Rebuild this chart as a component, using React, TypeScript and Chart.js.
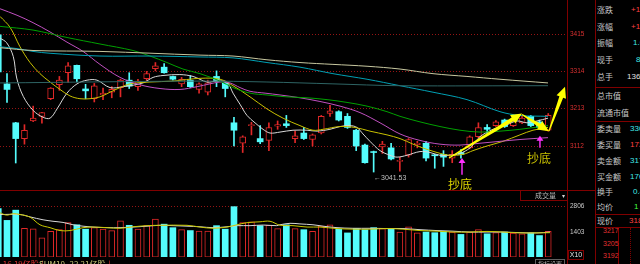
import React, { useEffect, useRef } from "react";
import { Chart, registerables } from "chart.js";

Chart.register(...registerables);

// ---------------- data ----------------
const priceTicks = [3112, 3213, 3314, 3415];
const volumeTicks = [1403, 2806];

// [open, high, low, close] per trading day
const candles: number[][] = [
  [3413.2, 3415.0, 3307.8, 3312.8],
  [3280.2, 3307.8, 3230.0, 3265.1],
  [3174.8, 3176.0, 3066.0, 3132.1],
  [3132.1, 3169.7, 3117.0, 3154.7],
  [3179.8, 3219.9, 3178.0, 3187.3],
  [3192.3, 3203.0, 3173.5, 3202.4],
  [3240.0, 3270.0, 3237.5, 3269.0],
  [3277.7, 3300.3, 3262.6, 3290.2],
  [3310.3, 3337.9, 3284.0, 3329.0],
  [3330.4, 3331.0, 3285.2, 3294.0],
  [3266.4, 3279.0, 3240.0, 3261.3],
  [3240.0, 3281.4, 3231.2, 3275.2],
  [3250.1, 3269.0, 3237.5, 3255.1],
  [3257.6, 3272.6, 3242.5, 3265.1],
  [3270.1, 3292.7, 3245.0, 3290.2],
  [3290.2, 3310.3, 3267.6, 3274.0],
  [3272.6, 3292.7, 3262.6, 3287.7],
  [3294.0, 3314.0, 3287.7, 3307.8],
  [3321.6, 3337.9, 3315.3, 3329.0],
  [3325.4, 3335.4, 3309.0, 3310.3],
  [3300.3, 3301.5, 3290.0, 3292.7],
  [3280.2, 3297.7, 3272.6, 3292.7],
  [3290.2, 3302.8, 3270.1, 3272.6],
  [3265.1, 3282.7, 3255.1, 3280.2],
  [3257.6, 3290.2, 3250.1, 3282.7],
  [3300.3, 3315.3, 3272.6, 3286.4],
  [3282.7, 3285.2, 3245.0, 3267.6],
  [3174.8, 3189.8, 3112.0, 3154.7],
  [3119.5, 3139.6, 3094.4, 3137.1],
  [3167.2, 3176.0, 3142.1, 3169.7],
  [3132.1, 3167.2, 3118.3, 3123.3],
  [3127.1, 3174.8, 3099.5, 3162.2],
  [3166.0, 3179.8, 3157.2, 3169.7],
  [3172.2, 3194.8, 3162.2, 3167.2],
  [3132.1, 3152.2, 3120.8, 3139.6],
  [3147.1, 3162.2, 3129.6, 3132.1],
  [3129.6, 3144.6, 3112.0, 3142.1],
  [3147.1, 3194.8, 3144.6, 3192.3],
  [3199.9, 3222.4, 3192.3, 3207.4],
  [3204.9, 3207.4, 3179.8, 3182.3],
  [3192.3, 3199.9, 3159.7, 3162.2],
  [3154.7, 3157.2, 3099.5, 3112.0],
  [3114.5, 3117.0, 3065.6, 3066.8],
  [3096.9, 3098.2, 3041.53, 3094.4],
  [3109.5, 3124.6, 3091.9, 3117.0],
  [3107.0, 3119.5, 3074.4, 3076.9],
  [3070.6, 3081.9, 3044.2, 3073.1],
  [3086.9, 3132.1, 3081.9, 3129.6],
  [3115.8, 3124.6, 3107.0, 3119.5],
  [3119.5, 3124.6, 3071.8, 3079.4],
  [3088.2, 3089.4, 3051.8, 3085.6],
  [3089.4, 3099.5, 3056.8, 3081.9],
  [3079.4, 3099.5, 3066.8, 3089.4],
  [3094.4, 3102.0, 3079.4, 3089.4],
  [3107.0, 3139.6, 3104.5, 3137.1],
  [3137.1, 3174.8, 3134.6, 3162.2],
  [3162.2, 3169.7, 3142.1, 3157.2],
  [3167.2, 3181.0, 3164.7, 3177.3],
  [3182.3, 3184.8, 3162.2, 3164.7],
  [3167.2, 3187.3, 3164.7, 3179.8],
  [3174.8, 3192.3, 3172.2, 3187.3],
  [3192.3, 3194.8, 3164.7, 3167.2],
  [3177.3, 3182.3, 3159.7, 3162.2],
  [3154.7, 3199.9, 3152.2, 3194.8],
];

const volumes = [
  2694, 2042, 2611, 1603, 1574, 1067, 1428, 1525, 1915, 1798, 1554, 1637, 1554, 1476, 2012, 1769,
  1554, 1749, 2110, 1832, 1637, 1525, 1476, 1442, 1442, 1749, 1554, 2806, 1915, 1963, 1749, 1769,
  1588, 1798, 1588, 1525, 1428, 1720, 1798, 1554, 1345, 1588, 1525, 1637, 1588, 1588, 1393, 1686,
  1345, 1393, 1359, 1428, 1393, 1262, 1393, 1525, 1296, 1359, 1393, 1330, 1296, 1345, 1199, 1428,
];

// moving averages: [bar index, value]
const ma5: number[][] = [
  [0.2, 3404], [0.96, 3391.5], [1.72, 3354], [2.11, 3296], [2.87, 3246], [4.01, 3208], [5.13, 3189.8],
  [5.93, 3187.3], [6.73, 3212.4], [7.87, 3255.1], [9.02, 3280.2], [10.17, 3290.2], [11.31, 3290.2],
  [12.8, 3270.1], [14.3, 3272.6], [16.58, 3282.7], [17.73, 3297.7], [18.87, 3302.8], [20.8, 3305.3],
  [22.31, 3300.3], [23.91, 3285.2], [25.06, 3287.7], [26.2, 3285.2], [26.89, 3255.1], [27.69, 3225],
  [28.49, 3194.8], [29.41, 3174.8], [30.33, 3157.2], [31.13, 3147.1], [32.27, 3149.7], [33.76, 3154.7],
  [35.37, 3154.7], [36.51, 3152.2], [38, 3157.2], [39.15, 3164.7], [40.29, 3167.2], [41.09, 3162.2],
  [41.78, 3144.6], [42.58, 3124.6], [43.73, 3099.5], [44.87, 3086.9], [45.68, 3081.9], [46.82, 3086.9],
  [48.31, 3096.9], [49.46, 3094.4], [50.6, 3086.9], [51.75, 3086.9], [52.89, 3091.9], [54.04, 3107],
  [55.18, 3137.1], [56.67, 3157.2], [58.28, 3169.7], [59.42, 3179.8], [60.57, 3174.8], [61.71, 3179.8],
  [62.97, 3187.3],
];
const ma10: number[][] = [
  [0.2, 3462.7], [1.35, 3433.3], [2.49, 3380.6], [3.64, 3337.9], [4.78, 3307.8], [5.93, 3285.2],
  [7.07, 3265.1], [8.22, 3247.5], [9.36, 3240], [10.51, 3240], [11.65, 3245], [12.8, 3257.6],
  [13.95, 3270.1], [15.09, 3280.2], [17.38, 3285.2], [20.02, 3287.7], [23.11, 3295.2], [25.4, 3292.7],
  [26.89, 3275.2], [28.84, 3245], [30.78, 3212.4], [32.62, 3187.3], [34.56, 3167.2], [36.05, 3154.7],
  [37.2, 3157.2], [39.15, 3164.7], [40.86, 3162.2], [42.58, 3152.2], [44.53, 3142.1], [46.02, 3132.1],
  [47.51, 3117], [48.31, 3109.5], [50.26, 3094.4], [51.75, 3086.9], [53.24, 3089.4], [54.38, 3099.5],
  [55.98, 3112], [57.82, 3124.6], [59.76, 3142.1], [61.25, 3154.7], [62.97, 3162.2],
];
const ma20: number[][] = [
  [0.2, 3483.5], [2.15, 3465.9], [3.98, 3445.8], [5.93, 3420.7], [7.87, 3393.1], [9.71, 3368],
  [11.65, 3332.9], [13.95, 3297.7], [16.24, 3277.7], [18.53, 3267.6], [20.82, 3265.1], [22.77, 3272.6],
  [24.25, 3280.2], [25.4, 3285.2], [26.55, 3282.7], [27.69, 3270.1], [28.84, 3260.1], [30.56, 3255.1],
  [32.27, 3250.1], [34.56, 3242.5], [36.85, 3232.5], [39.15, 3219.9], [41.44, 3202.4], [43.73, 3174.8],
  [46.02, 3144.6], [48.31, 3127.1], [50.6, 3117], [52.89, 3114.5], [55.18, 3119.5], [57.47, 3124.6],
  [59.76, 3129.6], [62.97, 3134.6],
];
const ma30: number[][] = [
  [0.2, 3435.8], [3.98, 3425.8], [7.87, 3405.7], [11.65, 3388.1], [15.43, 3370.5], [17.38, 3355.5],
  [19.33, 3337.9], [21.16, 3320.3], [23.11, 3307.8], [25.4, 3287.7], [26.89, 3270.1], [28.84, 3255.1],
  [30.78, 3250.1], [33.07, 3245], [35.37, 3242.5], [37.66, 3237.5], [39.95, 3230], [42.24, 3219.9],
  [44.53, 3204.9], [46.02, 3192.3], [48.31, 3177.3], [50.6, 3164.7], [52.89, 3154.7], [55.18, 3149.7],
  [57.47, 3152.2], [59.76, 3157.2], [62.97, 3167.2],
];
const ma60: number[][] = [
  [0.2, 3380.6], [2.15, 3375.6], [3.98, 3368], [5.93, 3363], [11.65, 3355.5], [17.38, 3355.5],
  [23.11, 3353], [26.89, 3350.5], [30.78, 3337.9], [34.56, 3325.4], [38.34, 3307.8], [42.24, 3292.7],
  [46.02, 3275.2], [49.8, 3257.6], [53.69, 3237.5], [57.47, 3204.9], [59.76, 3194.8], [62.97, 3192.3],
];
const ma120: number[][] = [
  [0.2, 3378.1], [3.98, 3370.5], [11.65, 3368], [23.11, 3358], [26.89, 3355.5], [30.78, 3345.4],
  [34.56, 3337.9], [38.34, 3332.9], [42.24, 3327.9], [46.02, 3320.3], [49.8, 3307.8], [53.69, 3300.3],
  [57.47, 3292.7], [62.97, 3282.7],
];
const ma250: number[][] = [
  [0.2, 3282.7], [23.11, 3287.7], [30.78, 3285.2], [38.34, 3280.2], [46.02, 3275.2], [62.97, 3275.2],
];

const volMa5: number[][] = [
  [0.2, 2368], [2.49, 2368], [3.64, 2236], [5.13, 2075], [6.27, 1993], [7.42, 1929], [8.56, 1798],
  [9.71, 1720], [10.85, 1671], [12.46, 1637], [13.95, 1637], [15.43, 1671], [17.04, 1720], [18.53, 1769],
  [20.02, 1749], [21.62, 1720], [23.11, 1686], [24.6, 1637], [26.2, 1686], [27.34, 1749], [28.84, 1749],
  [30.36, 1783], [31.9, 1749], [32.27, 1798], [33.42, 1880], [34.56, 1846], [36.05, 1798], [37.2, 1720],
  [38.8, 1637], [40.63, 1603], [42.58, 1603], [44.53, 1588], [46.36, 1588], [48.31, 1525], [50.26, 1476],
  [52.09, 1442], [54.04, 1393], [55.98, 1393], [57.82, 1393], [59.76, 1359], [61.71, 1345], [63.2, 1393],
];
const volMa10: number[][] = [
  [0.2, 2465], [0.96, 2334], [1.72, 2416], [2.49, 2368], [3.64, 2222], [4.78, 1798], [5.93, 1637],
  [7.07, 1476], [8.22, 1476], [9.71, 1637], [10.85, 1671], [12.46, 1637], [13.95, 1603], [15.43, 1686],
  [17.04, 1749], [18.53, 1769], [21.62, 1769], [23.11, 1671], [24.6, 1603], [26.2, 1671], [27.34, 1798],
  [28.49, 1915], [29.98, 1963], [31.13, 1993], [32.27, 1775], [33.76, 1749], [35.37, 1671], [36.85, 1671],
  [38.8, 1588], [40.63, 1554], [42.58, 1554], [44.53, 1588], [46.36, 1554], [48.31, 1476], [50.26, 1442],
  [52.09, 1393], [54.04, 1393], [55.98, 1428], [57.82, 1393], [59.76, 1345], [61.71, 1345], [63.2, 1359],
];

// annotation arrows: [from index, from price, to index, to price]
const yellowArrows: number[][] = [
  [51.63, 3079.4, 60.0, 3199.9],
  [60.0, 3197.3, 63.08, 3152.2],
  [63.08, 3152.2, 64.92, 3272.6],
];
const magentaArrows: number[][] = [
  [53.12, 3034.2, 53.12, 3079.4],
  [62.05, 3107.0, 62.05, 3139.6],
];

const lowLabel = "←3041.53";
const buyText = "抄底";

const infoLabels = ["涨跌", "涨幅", "振幅", "现手", "总手", "总市值", "流通市值", "委卖量", "委买量", "卖金额", "买金额", "换手", "均价", "现价"];
const infoValues = ["+15.32", "+1.48%", "1.62%", "8654", "1365432", "", "", "330", "172", "317.6亿", "176.2亿", "0.45%", "1", "3189.3"];
const infoColors = ["#ff4040", "#ff4040", "#40e8e8", "#40e8e8", "#e0e0e0", "#fff", "#fff", "#40e8e8", "#ff4040", "#40e8e8", "#40e8e8", "#40e8e8", "#40ff40", "#ff4040"];
const miniTicks = ["3217", "3205", "3192"];

// ---------------- styles ----------------
const CYAN = "#54fcfc";
const RED = "#e02828";
const FRAME = "#800000";
const GRID = "#961414";
const X_MIN = 0.198;
const X_MAX = 65.148;
const infoRowY = [10, 27, 43, 60, 77, 96, 113, 129, 145, 161, 177, 192, 207, 221];
const infoValueX = [631, 631, 633, 636, 627, 0, 0, 630, 630, 630, 630, 633, 634, 629];

function wedgeArrow(ctx: CanvasRenderingContext2D, x0: number, y0: number, x1: number, y1: number,
  color: string, tailW: number, shaftW: number, headW: number, headL: number) {
  const dx = x1 - x0, dy = y1 - y0;
  const len = Math.hypot(dx, dy) || 1;
  const ux = dx / len, uy = dy / len, nx = -uy, ny = ux;
  const bx = x1 - ux * headL, by = y1 - uy * headL;
  ctx.beginPath();
  ctx.moveTo(x0 + nx * tailW, y0 + ny * tailW);
  ctx.lineTo(bx + nx * shaftW, by + ny * shaftW);
  ctx.lineTo(bx + nx * headW, by + ny * headW);
  ctx.lineTo(x1, y1);
  ctx.lineTo(bx - nx * headW, by - ny * headW);
  ctx.lineTo(bx - nx * shaftW, by - ny * shaftW);
  ctx.lineTo(x0 - nx * tailW, y0 - ny * tailW);
  ctx.closePath();
  ctx.fillStyle = color;
  ctx.fill();
}

const markPlugin = {
  id: "marks",
  afterDatasetsDraw(chart: any) {
    const { ctx } = chart;
    const xs = chart.scales.x, ys = chart.scales.y;
    ctx.save();
    for (const a of magentaArrows) {
      wedgeArrow(ctx, xs.getPixelForValue(a[0]), ys.getPixelForValue(a[1]), xs.getPixelForValue(a[2]), ys.getPixelForValue(a[3]),
        "#ff30ff", 0.7, 0.7, 3.5, 5);
    }
    for (const a of yellowArrows) {
      wedgeArrow(ctx, xs.getPixelForValue(a[0]), ys.getPixelForValue(a[1]), xs.getPixelForValue(a[2]), ys.getPixelForValue(a[3]),
        "#ffff00", 0.6, 2, 5, 11);
    }
    ctx.restore();
  },
};

function lineSet(points: number[][], color: string) {
  return {
    type: "line",
    data: points.map((p) => ({ x: p[0], y: p[1] })),
    borderColor: color,
    borderWidth: 1,
    pointRadius: 0,
    tension: 0.35,
    fill: false,
    order: 0,
  };
}

function xScale() {
  return { type: "linear", min: X_MIN, max: X_MAX, display: false, offset: false, grid: { display: false } };
}

const plainTick = (v: any) => String(v);

export default function App() {
  const priceRef = useRef<HTMLCanvasElement>(null);
  const volRef = useRef<HTMLCanvasElement>(null);

  useEffect(() => {
    document.body.style.margin = "0";
    document.body.style.background = "#000";
    const up = candles.map((c) => c[3] >= c[0]);
    const bodyFill = up.map((u) => (u ? "#000" : CYAN));
    const bodyLine = up.map((u) => (u ? RED : CYAN));

    const price = new Chart(priceRef.current as HTMLCanvasElement, {
      type: "bar",
      data: {
        datasets: [
          lineSet(ma250, "#2e6464"),
          lineSet(ma120, "#c8c8a0"),
          lineSet(ma60, "#00a0b4"),
          lineSet(ma30, "#00a000"),
          lineSet(ma20, "#c050c0"),
          lineSet(ma10, "#c8c000"),
          lineSet(ma5, "#d8d8d8"),
          {
            type: "bar",
            data: candles.map((c, i) => ({ x: i, y: [c[0], c[3]] })),
            backgroundColor: bodyFill,
            borderColor: bodyLine,
            borderWidth: up.map((u) => (u ? 1 : 0)),
            borderSkipped: false,
            barThickness: 6,
            grouped: false,
            order: 1,
          },
          {
            type: "bar",
            data: candles.map((c, i) => ({ x: i, y: [c[2], c[1]] })),
            backgroundColor: bodyLine,
            borderWidth: 0,
            barThickness: 1,
            grouped: false,
            order: 2,
          },
        ] as any,
      },
      options: {
        animation: false,
        responsive: false,
        maintainAspectRatio: false,
        events: [],
        layout: { padding: 0, autoPadding: false },
        plugins: { legend: { display: false }, tooltip: { enabled: false } },
        scales: {
          x: xScale() as any,
          y: {
            position: "right",
            min: 3011.6,
            max: 3488.5,
            afterBuildTicks: (s: any) => { s.ticks = priceTicks.map((v) => ({ value: v })); },
            afterFit: (s: any) => { s.width = 73; },
            ticks: { color: "#d83030", font: { size: 6.5, family: "Liberation Sans" }, padding: 3, callback: plainTick },
            grid: { color: GRID, drawTicks: false, lineWidth: 1 },
            border: { display: false, dash: [1, 2] },
          } as any,
        },
      },
      plugins: [markPlugin],
    });

    const vol = new Chart(volRef.current as HTMLCanvasElement, {
      type: "bar",
      data: {
        datasets: [
          lineSet(volMa10, "#c8c800"),
          lineSet(volMa5, "#d8d8d8"),
          {
            type: "bar",
            data: volumes.map((v, i) => ({ x: i, y: v })),
            backgroundColor: bodyFill,
            borderColor: bodyLine,
            borderWidth: up.map((u) => (u ? 1 : 0)),
            borderSkipped: false,
            barThickness: 6,
            grouped: false,
            order: 1,
          },
        ] as any,
      },
      options: {
        animation: false,
        responsive: false,
        maintainAspectRatio: false,
        events: [],
        layout: { padding: { top: 0, bottom: 5.4, left: 0, right: 0 }, autoPadding: false },
        plugins: { legend: { display: false }, tooltip: { enabled: false } },
        scales: {
          x: xScale() as any,
          y: {
            position: "right",
            min: 0,
            max: 3293,
            afterBuildTicks: (s: any) => { s.ticks = volumeTicks.map((v) => ({ value: v })); },
            afterFit: (s: any) => { s.width = 73; },
            ticks: { color: "#c8c8c8", font: { size: 6.5, family: "Liberation Sans" }, padding: 3, callback: plainTick },
            grid: {
              color: (c: any) => (c.tick && c.tick.value === volumeTicks[1] ? GRID : "rgba(0,0,0,0)"),
              drawTicks: false,
              lineWidth: 1,
            },
            border: { display: false, dash: [1, 2] },
          } as any,
        },
      },
    });

    return () => { price.destroy(); vol.destroy(); };
  }, []);

  const abs = (s: any) => ({ position: "absolute" as const, ...s });

  return (
    <div style={{ position: "fixed", left: 0, top: 0, width: 640, height: 264, background: "#000", overflow: "hidden", fontFamily: '"Noto Sans CJK SC", sans-serif' }}>
      <canvas ref={priceRef} width={640} height={190} style={abs({ left: 0, top: 0, width: 640, height: 190 })} />
      <canvas ref={volRef} width={640} height={73} style={abs({ left: 0, top: 191, width: 640, height: 73 })} />

      {/* frame */}
      <div style={abs({ left: 0, top: 190, width: 595, height: 1, background: FRAME })} />
      <div style={abs({ left: 567, top: 0, width: 1, height: 264, background: FRAME })} />
      <div style={abs({ left: 595, top: 0, width: 45, height: 264, background: "#000", borderLeft: `1px solid ${FRAME}` })} />
      {[87, 121, 214, 227].map((y) => (
        <div key={y} style={abs({ left: 596, top: y, width: 44, height: 1, background: FRAME })} />
      ))}

      {/* info panel */}
      {infoLabels.map((t, i) => (
        <div key={t} style={abs({ left: 597, top: infoRowY[i] - 5, fontSize: 8, lineHeight: "10px", color: "#c8c8c8", whiteSpace: "nowrap" })}>{t}</div>
      ))}
      {infoValues.map((t, i) => (t ? (
        <div key={"v" + i} style={abs({ left: infoValueX[i], top: infoRowY[i] - 5, fontSize: 8, lineHeight: "10px", color: infoColors[i], whiteSpace: "nowrap", fontFamily: '"Liberation Sans", sans-serif' })}>{t}</div>
      ) : null))}
      <div style={abs({ left: 596, top: 228, width: 44, height: 36, overflow: "hidden" })}>
        <div style={abs({ left: 22, top: 0, width: 1, height: 36, background: FRAME })} />
        <div style={abs({ left: 34, top: 0, width: 0, height: 36, borderLeft: `1px dotted ${FRAME}` })} />
        {miniTicks.map((t, i) => (
          <div key={t} style={abs({ left: 7, top: -1 + i * 12.5, fontSize: 7, lineHeight: "8px", color: "#e03030", fontFamily: '"Liberation Sans", sans-serif' })}>{t}</div>
        ))}
      </div>

      {/* volume caption */}
      <div style={abs({ left: 520, top: 191, width: 46, height: 9, border: `1px solid ${FRAME}`, borderTop: "none" })}>
        <span style={abs({ left: 14, top: 0, fontSize: 7, lineHeight: "9px", color: "#b8b8b8", whiteSpace: "nowrap" })}>成交量</span>
        <span style={abs({ left: 41, top: 0, fontSize: 6, lineHeight: "9px", color: "#d0d0d0" })}>▾</span>
      </div>
      <div style={abs({ left: 568, top: 250, width: 14, height: 8, border: `1px solid ${FRAME}`, fontSize: 7, lineHeight: "8px", color: "#e0e0e0", fontFamily: '"Liberation Sans", sans-serif', textAlign: "center" })}>X10</div>

      {/* annotations */}
      <div style={abs({ left: 374, top: 173, fontSize: 7, lineHeight: "9px", color: "#c0c0c0", whiteSpace: "nowrap", fontFamily: '"Liberation Sans", "DejaVu Sans", sans-serif' })}>{lowLabel}</div>
      <div style={abs({ left: 448, top: 177, fontSize: 12, lineHeight: "14px", color: "#e0d800", whiteSpace: "nowrap" })}>{buyText}</div>
      <div style={abs({ left: 527, top: 151, fontSize: 12, lineHeight: "14px", color: "#c8c000", whiteSpace: "nowrap" })}>{buyText}</div>

      {/* bottom status */}
      <div style={abs({ left: 0, top: 259, fontSize: 8, lineHeight: "9px", color: "#e03030", whiteSpace: "nowrap" })}>-16.19亿股↓</div>
      <div style={abs({ left: 39, top: 259, fontSize: 8, lineHeight: "9px", color: "#c8c878", whiteSpace: "nowrap" })}>SUM10 -22.21亿股<span style={{ color: "#e03030" }}>↓</span></div>
      <div style={abs({ left: 535, top: 259, width: 28, height: 8, border: "1px solid #606060", fontSize: 6, lineHeight: "8px", color: "#b0b0b0", whiteSpace: "nowrap", textAlign: "center" })}>指标设置</div>
    </div>
  );
}
